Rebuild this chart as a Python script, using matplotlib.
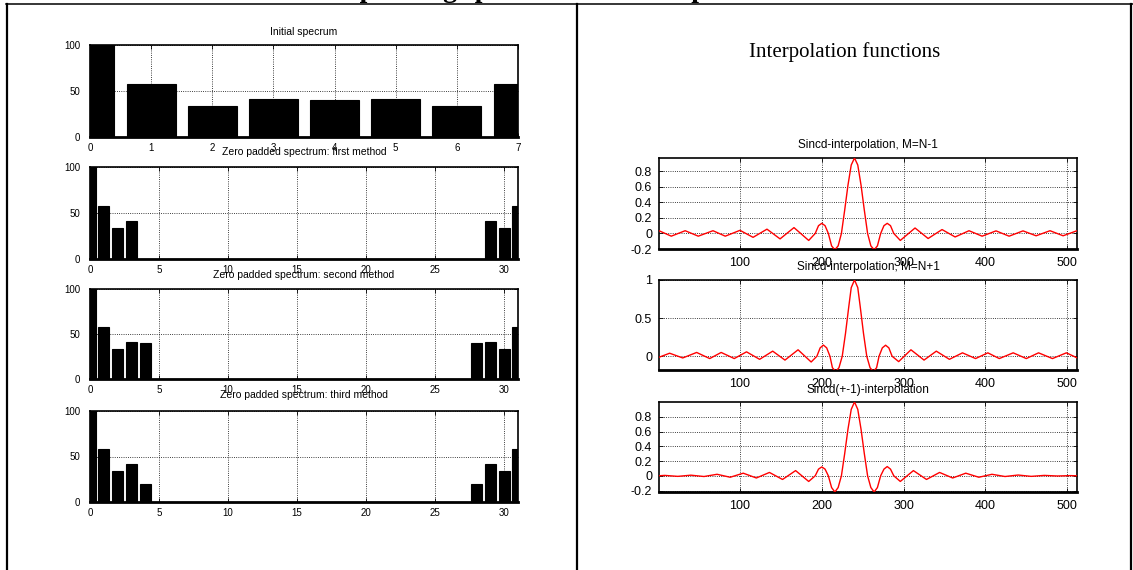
import matplotlib
matplotlib.use("Agg")
import matplotlib.pyplot as plt
from matplotlib.lines import Line2D

W, H = 1133, 570

# spectra (bar heights)
init_bins = [0, 1, 2, 3, 4, 5, 6, 7]
init_vals = [100, 58, 33.5, 41, 40, 41, 33.5, 58]

pad_bins = list(range(32))
first_vals = [100, 58, 33.5, 41, 0, 0, 0, 0, 0, 0, 0, 0, 0, 0, 0, 0,
              0, 0, 0, 0, 0, 0, 0, 0, 0, 0, 0, 0, 0, 41, 33.5, 58]
second_vals = [100, 58, 33, 41, 40, 0, 0, 0, 0, 0, 0, 0, 0, 0, 0, 0,
               0, 0, 0, 0, 0, 0, 0, 0, 0, 0, 0, 0, 40, 41, 33, 58]
third_vals = [100, 58, 34, 41.5, 19.5, 0, 0, 0, 0, 0, 0, 0, 0, 0, 0, 0,
              0, 0, 0, 0, 0, 0, 0, 0, 0, 0, 0, 0, 19.5, 41.5, 34, 58]

# interpolation kernels, points
x_m1 = [1, 16, 33, 49, 67, 82, 100, 116, 133, 149, 166, 184, 192, 196, 200, 204, 208,
        212, 216, 220, 224, 228, 232, 236, 240, 244, 248, 252, 256, 260, 264, 268, 272,
        276, 280, 284, 288, 296, 314, 330, 347, 363, 380, 396, 413, 429, 446, 462, 479,
        495, 512]
y_m1 = [0.035, -0.035, 0.035, -0.035, 0.035, -0.035, 0.04, -0.05, 0.055, -0.07, 0.075,
        -0.09, 0, 0.1, 0.13, 0.1, 0, -0.16, -0.21, -0.16, 0, 0.3, 0.62, 0.88, 0.97, 0.88,
        0.62, 0.3, 0, -0.16, -0.21, -0.16, 0, 0.1, 0.13, 0.1, 0, -0.09, 0.07, -0.065,
        0.05, -0.045, 0.035, -0.035, 0.033, -0.035, 0.033, -0.03, 0.035, -0.03, 0.035]

x_p1 = [1, 14, 30, 47, 63, 77, 93, 108, 124, 140, 155, 171, 187, 194, 198, 202, 206,
        210, 213, 217, 221, 225, 229, 233, 236, 240, 244, 247, 251, 255, 259, 263, 267,
        270, 274, 278, 282, 286, 294, 309, 325, 340, 356, 372, 388, 403, 417, 434, 450,
        465, 482, 499, 512]
y_p1 = [-0.013, 0.04, -0.022, 0.05, -0.03, 0.05, -0.03, 0.058, -0.04, 0.067, -0.05,
        0.085, -0.075, 0, 0.11, 0.147, 0.11, 0, -0.15, -0.2, -0.15, 0, 0.3, 0.65, 0.9,
        1.0, 0.9, 0.65, 0.3, 0, -0.15, -0.2, -0.15, 0, 0.11, 0.145, 0.11, 0, -0.07,
        0.085, -0.05, 0.067, -0.04, 0.045, -0.03, 0.045, -0.03, 0.045, -0.03, 0.045,
        -0.03, 0.045, -0.02]

x_pm = [1, 8, 24, 40, 56, 72, 88, 104, 120, 136, 152, 168, 184, 192, 196, 200, 204, 208,
        212, 216, 220, 224, 228, 232, 236, 240, 244, 248, 252, 256, 260, 264, 268, 272,
        276, 280, 284, 288, 296, 312, 328, 344, 360, 376, 392, 408, 424, 440, 456, 472,
        488, 504, 512]
y_pm = [0, 0.005, -0.008, 0.008, -0.01, 0.02, -0.02, 0.035, -0.03, 0.045, -0.05, 0.07,
        -0.077, 0, 0.09, 0.12, 0.09, 0, -0.16, -0.22, -0.16, 0, 0.3, 0.63, 0.9, 1.0, 0.9,
        0.63, 0.3, 0, -0.16, -0.22, -0.16, 0, 0.09, 0.125, 0.09, 0, -0.077, 0.07, -0.05,
        0.045, -0.03, 0.035, -0.02, 0.02, -0.01, 0.01, -0.008, 0.005, -0.003, 0.002, 0]

sans = "Liberation Sans"
serif = "Liberation Serif"

fig = plt.figure(figsize=(W / 100, H / 100), dpi=100)


def box(x0, y0, x1, y1):
    # pixel box (top-left origin) -> figure axes
    return fig.add_axes([x0 / W, 1 - y1 / H, (x1 - x0) / W, (y1 - y0) / H])


def style(ax, size, pad_x, pad_y):
    ax.grid(True, linestyle=":", color="black", linewidth=0.6)
    ax.set_axisbelow(True)
    ax.tick_params(direction="in", length=3, top=True, right=True, width=0.6,
                   labelsize=size, pad=pad_x, axis="x")
    ax.tick_params(direction="in", length=3, top=True, right=True, width=0.6,
                   labelsize=size, pad=pad_y, axis="y")
    for lab in ax.get_xticklabels() + ax.get_yticklabels():
        lab.set_fontfamily(sans)
    for s in ax.spines.values():
        s.set_linewidth(1.2)
    ax.spines["bottom"].set_linewidth(2)


def ftext(x, y, s, size, family=sans, **kw):
    fig.text(x / W, 1 - y / H, s, fontsize=size, family=family,
             ha="center", va="center", **kw)


# left column: spectra
LX0, LX1 = 90, 518
left_rows = [(45, 137), (167, 259), (289, 379), (411, 502)]
left_titles = ["Initial specrum", "Zero padded spectrum: first method",
               "Zero padded spectrum: second method", "Zero padded spectrum: third method"]
left_title_y = [32, 152, 275, 395]
left_data = [(init_bins, init_vals), (pad_bins, first_vals),
             (pad_bins, second_vals), (pad_bins, third_vals)]

for i, (y0, y1) in enumerate(left_rows):
    ax = box(LX0, y0, LX1, y1)
    bins, vals = left_data[i]
    ax.bar(bins, vals, width=0.8, color="black", edgecolor="black", linewidth=0.8, zorder=2)
    ax.set_ylim(0, 100)
    ax.set_yticks([0, 50, 100])
    if i == 0:
        ax.set_xlim(0, 7)
        ax.set_xticks(init_bins)
    else:
        ax.set_xlim(0, 31)
        ax.set_xticks([0, 5, 10, 15, 20, 25, 30])
    style(ax, 7, 4.5, 7)
    ftext((LX0 + LX1) / 2, left_title_y[i], left_titles[i], 7.5)

# right column: interpolation kernels
RX0, RX1 = 659, 1077
right_rows = [(158, 249), (280, 370), (402, 492)]
right_titles = ["Sincd-interpolation, M=N-1", "Sincd-interpolation, M=N+1",
                "Sincd(+-1)-interpolation"]
right_title_y = [145, 267, 390]
right_data = [(x_m1, y_m1), (x_p1, y_p1), (x_pm, y_pm)]
right_ylim = [(-0.2, 0.97), (-0.18, 1.0), (-0.22, 1.0)]
right_yticks = [[-0.2, 0, 0.2, 0.4, 0.6, 0.8], [0, 0.5, 1], [-0.2, 0, 0.2, 0.4, 0.6, 0.8]]
right_ylabels = [["-0.2", "0", "0.2", "0.4", "0.6", "0.8"], ["0", "0.5", "1"],
                 ["-0.2", "0", "0.2", "0.4", "0.6", "0.8"]]

for i, (y0, y1) in enumerate(right_rows):
    ax = box(RX0, y0, RX1, y1)
    xs, ys = right_data[i]
    ax.plot(xs, ys, color="red", linewidth=1.0, zorder=3)
    ax.set_xlim(1, 512)
    ax.set_ylim(*right_ylim[i])
    ax.set_xticks([100, 200, 300, 400, 500])
    ax.set_yticks(right_yticks[i])
    ax.set_yticklabels(right_ylabels[i])
    style(ax, 9, 6, 5)
    ftext((RX0 + RX1) / 2, right_title_y[i], right_titles[i], 8.5)

ftext(845, 52, "Interpolation functions", 15, family=serif)

# page title, cut off by the top edge: only the descenders show
fig.text(0.53, 1 + 3 / H, "Zero padding spectrum and interpolation functions",
         fontsize=20, family=serif, fontweight="bold", ha="center", va="baseline")

# frame lines of the page table
frame = [((6, 1133), (4, 4), 1.1), ((7, 7), (4, 570), 1.6), ((577, 577), (4, 570), 1.6),
         ((1131, 1131), (4, 570), 1.6)]
for xs, ys, lw in frame:
    fig.add_artist(Line2D([x / W for x in xs], [1 - y / H for y in ys],
                          transform=fig.transFigure, color="black", linewidth=lw))

fig.savefig("out.png", dpi=100)
